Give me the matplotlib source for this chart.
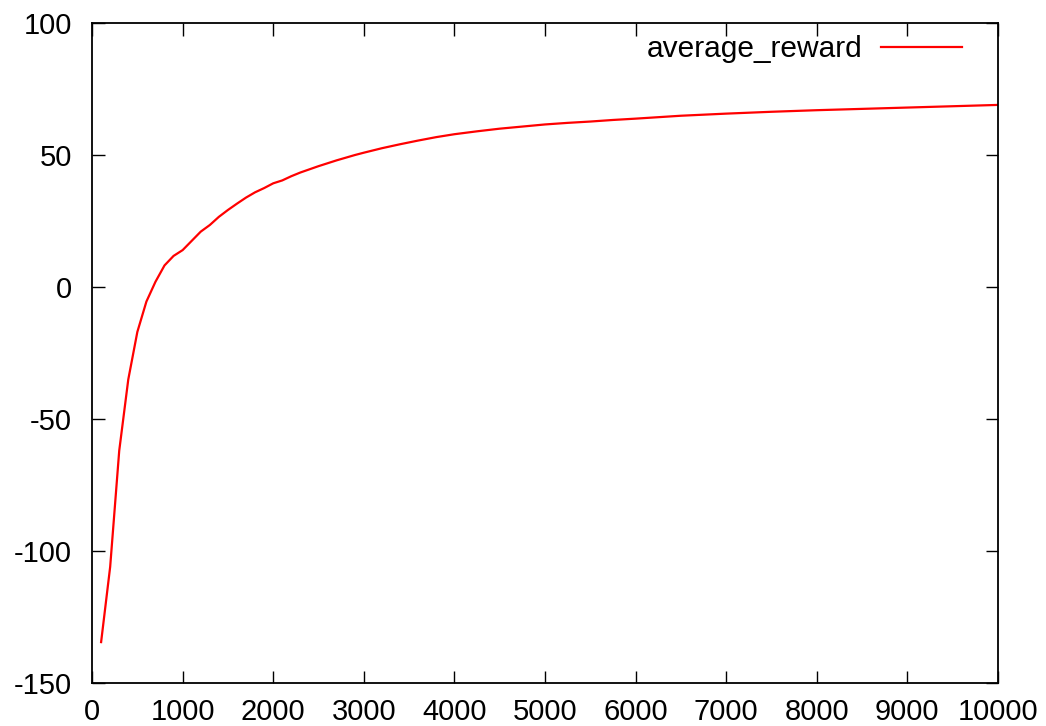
import matplotlib
matplotlib.use('Agg')
import matplotlib.pyplot as plt

# episode index and running average reward
episodes = [100, 200, 300, 400, 500, 600, 700, 800, 900, 1000,
            1100, 1200, 1300, 1400, 1500, 1600, 1700, 1800, 1900, 2000,
            2100, 2200, 2300, 2400, 2500, 2600, 2700, 2800, 2900, 3000,
            3200, 3400, 3600, 3800, 4000, 4250, 4500, 4750, 5000, 5250,
            5500, 5750, 6000, 6500, 7000, 7500, 8000, 8500, 9000, 9500, 10000]
average_reward = [-134.5, -106, -62, -35, -17, -5.5, 2, 8.2, 11.8, 14,
                  17.5, 21, 23.5, 26.6, 29.2, 31.6, 33.9, 35.9, 37.5, 39.3,
                  40.4, 42, 43.4, 44.6, 45.8, 46.9, 48, 49, 50, 50.9,
                  52.6, 54.1, 55.5, 56.8, 57.9, 59.0, 60.0, 60.8, 61.6, 62.2,
                  62.7, 63.3, 63.8, 64.9, 65.7, 66.4, 67.0, 67.5, 68.0, 68.5, 69.0]

xticks = list(range(0, 10001, 1000))
yticks = [-150, -100, -50, 0, 50, 100]

plt.rcParams['font.family'] = ['Liberation Sans', 'DejaVu Sans']
plt.rcParams['font.size'] = 21
plt.rcParams['axes.unicode_minus'] = False

fig = plt.figure(figsize=(10.46, 7.26), dpi=100)
ax = fig.add_axes([0.088, 0.0592, 0.866, 0.909])

ax.plot(episodes, average_reward, color='#ff0000', lw=1.6, label='average_reward')

ax.set_xlim(0, 10000)
ax.set_ylim(-150, 100)
ax.set_xticks(xticks)
ax.set_yticks(yticks)
ax.tick_params(direction='in', length=9, width=1, top=True, right=True)
ax.tick_params(axis='y', pad=14.5)
ax.tick_params(axis='x', pad=10.5)
for s in ax.spines.values():
    s.set_linewidth(1.3)

ax.legend(loc='upper right', frameon=False, markerfirst=False, fontsize=21.5,
          handlelength=2.7, handletextpad=0.64, borderpad=0, borderaxespad=0,
          bbox_to_anchor=(0.9603, 0.9815))

fig.savefig('out.png', dpi=100)
